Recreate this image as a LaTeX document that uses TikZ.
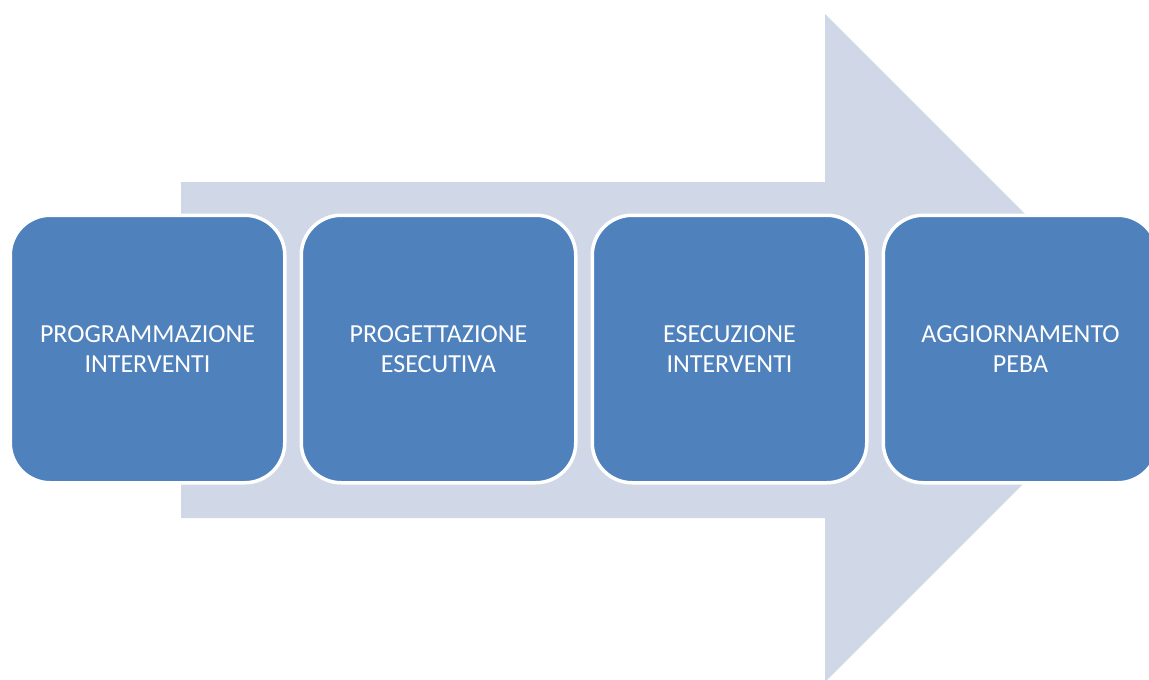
\documentclass[tikz,border=0pt]{standalone}
\usepackage{fontspec}
\setmainfont{Carlito}
\usepackage{tikz}
\usetikzlibrary{positioning}
\definecolor{stepblue}{RGB}{79,129,189}
\definecolor{arrowgrey}{RGB}{208,216,232}

\begin{document}
\begin{tikzpicture}[
	x=1pt, y=-1pt,
	% riquadri delle fasi
	phase/.style={
		draw=white,
		line width=3.5pt,
		fill=stepblue,
		text=white,
		minimum width=274.5pt,
		minimum height=267.5pt,
		rounded corners=40pt,
		align=center,
		font=\fontsize{26}{30}\selectfont
	},
	node distance=13pt
	]
	\useasboundingbox (0,0) rectangle (1149,680);
	
	% freccia di sfondo
	\fill[arrowgrey] (181,182) -- (825,182) -- (825,14) -- (1159,348)
		-- (825,682) -- (825,518) -- (181,518) -- cycle;
	
	% le quattro fasi in fila
	\node[phase] (prog) at (147.5,349) {PROGRAMMAZIONE\\INTERVENTI};
	\node[phase, right=of prog] (esec) {PROGETTAZIONE\\ESECUTIVA};
	\node[phase, right=of esec] (lavori) {ESECUZIONE\\INTERVENTI};
	\node[phase, right=of lavori] (peba) {AGGIORNAMENTO\\PEBA};
\end{tikzpicture}
\end{document}
